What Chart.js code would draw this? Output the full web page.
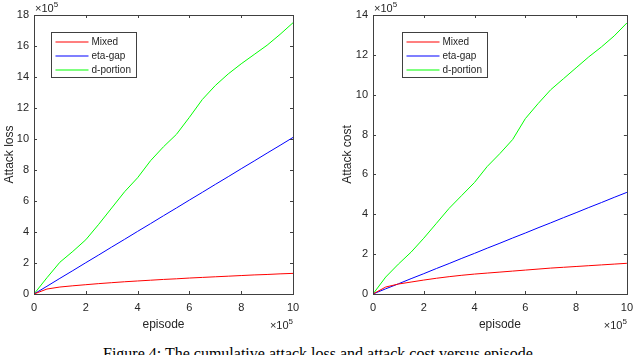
<!DOCTYPE html>
<html>
<head>
<meta charset="utf-8">
<script src="https://cdn.jsdelivr.net/npm/chart.js@4"></script>
<style>
  html, body { margin: 0; padding: 0; background: #fff; width: 640px; height: 355px; overflow: hidden; }
  .panel { position: absolute; top: 0; width: 320px; height: 340px; }
  #caption {
    position: absolute; left: 103px; top: 345px; white-space: nowrap;
    font-family: 'Liberation Serif', serif; font-size: 16px; color: #000;
  }
</style>
</head>
<body>
<div class="panel" style="left:0"><canvas id="chart-loss" width="320" height="340"></canvas></div>
<div class="panel" style="left:320px"><canvas id="chart-cost" width="320" height="340"></canvas></div>
<div id="caption">Figure 4: The cumulative attack loss and attack cost versus episode.</div>
<script>
// episode, in units of 1e5
const episodes = [0, 0.5, 1, 1.5, 2, 2.5, 3, 3.5, 4, 4.5, 5, 5.5, 6, 6.5, 7, 7.5, 8, 8.5, 9, 9.5, 10];
const xTicks   = [0, 2, 4, 6, 8, 10];

// attack loss, in units of 1e5
const lossMixed    = [0, 0.32, 0.45, 0.53, 0.60, 0.67, 0.73, 0.79, 0.84, 0.89, 0.94, 0.98, 1.03, 1.07, 1.11, 1.15, 1.19, 1.23, 1.26, 1.30, 1.33];
const lossEtaGap   = [0, 0.50, 1.01, 1.51, 2.02, 2.52, 3.03, 3.53, 4.04, 4.54, 5.05, 5.55, 6.06, 6.56, 7.07, 7.57, 8.08, 8.58, 9.09, 9.59, 10.1];
const lossDPortion = [0, 1.05, 2.05, 2.75, 3.50, 4.50, 5.55, 6.60, 7.50, 8.60, 9.50, 10.30, 11.40, 12.55, 13.45, 14.20, 14.85, 15.45, 16.05, 16.75, 17.50];

// attack cost, in units of 1e5
const costMixed    = [0, 0.35, 0.50, 0.60, 0.70, 0.79, 0.87, 0.94, 1.00, 1.05, 1.10, 1.15, 1.20, 1.25, 1.30, 1.34, 1.38, 1.42, 1.46, 1.50, 1.54];
const costEtaGap   = [0, 0.26, 0.51, 0.77, 1.02, 1.28, 1.53, 1.79, 2.04, 2.30, 2.55, 2.81, 3.06, 3.32, 3.57, 3.83, 4.08, 4.34, 4.59, 4.85, 5.10];
const costDPortion = [0, 0.85, 1.50, 2.10, 2.80, 3.55, 4.30, 4.95, 5.60, 6.40, 7.05, 7.75, 8.80, 9.55, 10.25, 10.80, 11.35, 11.90, 12.40, 12.95, 13.60];

const seriesNames  = ['Mixed', 'eta-gap', 'd-portion'];
const seriesColors = ['#ff0000', '#0000ff', '#00ff00'];

const FONT = "'Liberation Sans', Arial, sans-serif";
const AXIS = '#404040';
const TEXT = '#262626';

const pts = ys => episodes.map((x, i) => ({ x, y: ys[i] }));

// MATLAB-like box with inward ticks on all four sides
const boxPlugin = {
  id: 'box',
  afterDraw(chart) {
    const { ctx, chartArea: a, scales } = chart;
    ctx.save();
    ctx.strokeStyle = AXIS;
    ctx.lineWidth = 1;
    ctx.strokeRect(Math.round(a.left) + 0.5, Math.round(a.top) + 0.5,
                   Math.round(a.right - a.left), Math.round(a.bottom - a.top));
    ctx.beginPath();
    scales.x.ticks.forEach(t => {
      const px = Math.round(scales.x.getPixelForValue(t.value)) + 0.5;
      ctx.moveTo(px, a.bottom); ctx.lineTo(px, a.bottom - 3);
      ctx.moveTo(px, a.top);    ctx.lineTo(px, a.top + 3);
    });
    scales.y.ticks.forEach(t => {
      const py = Math.round(scales.y.getPixelForValue(t.value)) + 0.5;
      ctx.moveTo(a.left, py);  ctx.lineTo(a.left + 3, py);
      ctx.moveTo(a.right, py); ctx.lineTo(a.right - 3, py);
    });
    ctx.stroke();
    ctx.restore();
  }
};

function drawExp(ctx, x, y, alignRight) {
  ctx.font = '11px ' + FONT;
  const w1 = ctx.measureText('×10').width;
  ctx.font = '8px ' + FONT;
  const w2 = ctx.measureText('5').width;
  const x0 = alignRight ? x - w1 - w2 : x;
  ctx.font = '11px ' + FONT;
  ctx.fillText('×10', x0, y);
  ctx.font = '8px ' + FONT;
  ctx.fillText('5', x0 + w1, y - 5);
}

const expPlugin = {
  id: 'exp',
  afterDraw(chart) {
    const { ctx, chartArea: a } = chart;
    ctx.save();
    ctx.fillStyle = TEXT;
    ctx.textBaseline = 'alphabetic';
    ctx.textAlign = 'left';
    drawExp(ctx, a.left + 1, a.top - 3, false);
    drawExp(ctx, a.right, a.bottom + 35, true);
    ctx.restore();
  }
};

// legend box inside the axes
const legendBox = {
  id: 'legendBox',
  afterDraw(chart, args, opts) {
    const { ctx, chartArea: a } = chart;
    const x = Math.round(a.left + opts.dx) + 0.5;
    const y = Math.round(a.top + 17) + 0.5;
    ctx.save();
    ctx.fillStyle = '#fff';
    ctx.fillRect(x, y, 85, 45);
    ctx.strokeStyle = AXIS;
    ctx.lineWidth = 1;
    ctx.strokeRect(x, y, 85, 45);
    ctx.font = '10px ' + FONT;
    ctx.textBaseline = 'middle';
    ctx.textAlign = 'left';
    seriesNames.forEach((name, i) => {
      const ry = Math.round(y + 9 + i * 14);
      ctx.strokeStyle = seriesColors[i];
      ctx.lineWidth = 1.2;
      ctx.beginPath();
      ctx.moveTo(x + 4, ry);
      ctx.lineTo(x + 37, ry);
      ctx.stroke();
      ctx.fillStyle = TEXT;
      ctx.fillText(name, x + 40, ry);
    });
    ctx.restore();
  }
};

function makeChart(id, series, yMax, yTitle, yWidth, titlePad, rightPad, legendDx) {
  new Chart(document.getElementById(id), {
    type: 'line',
    data: {
      datasets: series.map((ys, i) => ({
        label: seriesNames[i],
        data: pts(ys),
        borderColor: seriesColors[i],
        borderWidth: 1,
        pointRadius: 0,
        tension: 0,
      }))
    },
    options: {
      responsive: false,
      animation: false,
      layout: { padding: { top: 15, right: rightPad, left: 0, bottom: 0 } },
      plugins: {
        legend: { display: false },
        tooltip: { enabled: false },
        legendBox: { dx: legendDx },
      },
      scales: {
        x: {
          type: 'linear', min: 0, max: 10,
          grid: { display: false, drawTicks: false },
          border: { display: false },
          afterBuildTicks: s => { s.ticks = xTicks.map(v => ({ value: v })); },
          afterFit: s => { s.height = 46; },
          ticks: { color: TEXT, font: { family: FONT, size: 11 }, padding: 7, maxRotation: 0, autoSkip: false },
          title: { display: true, text: 'episode', color: TEXT, font: { family: FONT, size: 12 }, padding: { bottom: 8 } },
        },
        y: {
          min: 0, max: yMax,
          grid: { display: false, drawTicks: false },
          border: { display: false },
          afterFit: s => { s.width = yWidth; },
          ticks: { stepSize: 2, color: TEXT, font: { family: FONT, size: 11 }, padding: 5 },
          title: { display: true, text: yTitle, color: TEXT, font: { family: FONT, size: 12 }, padding: { top: titlePad } },
        }
      }
    },
    plugins: [boxPlugin, expPlugin, legendBox]
  });
}

makeChart('chart-loss', [lossMixed, lossEtaGap, lossDPortion], 18, 'Attack loss', 34, 2, 27, 17);
makeChart('chart-cost', [costMixed, costEtaGap, costDPortion], 14, 'Attack cost', 53, 20, 7, 29);
</script>
</body>
</html>
